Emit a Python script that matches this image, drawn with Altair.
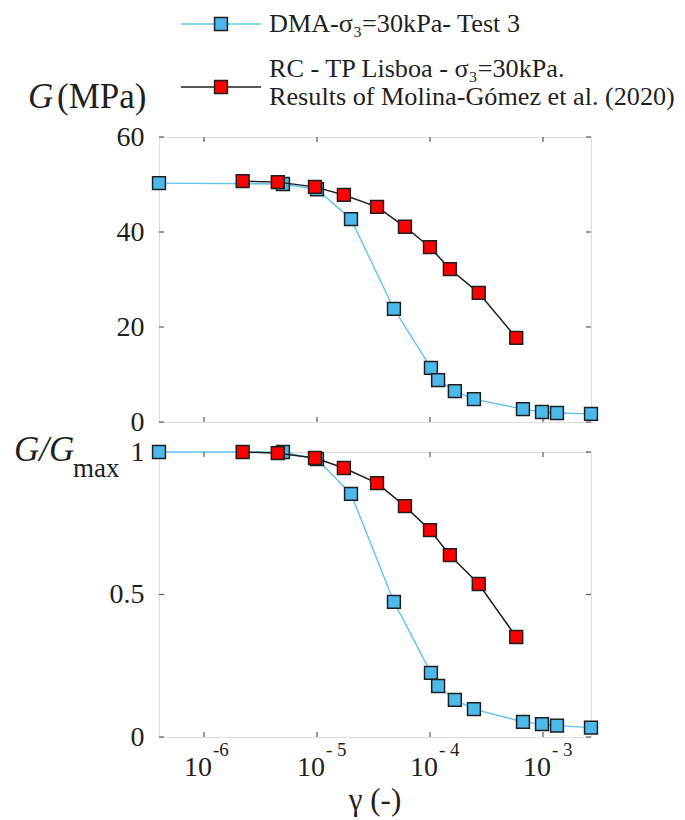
import altair as alt
import pandas as pd

# ---------------- data ----------------
dma_gamma = [4.0e-7, 5.0e-6, 1.0e-5, 2.0e-5, 4.8e-5, 1.02e-4, 1.18e-4,
             1.66e-4, 2.45e-4, 6.65e-4, 9.8e-4, 1.33e-3, 2.66e-3]
dma_G = [50.3, 50.1, 49.0, 42.7, 23.8, 11.4, 8.8, 6.5, 4.8, 2.7, 2.1, 1.9, 1.7]
dma_ratio = [1.0, 1.0, 0.975, 0.853, 0.474, 0.225, 0.179, 0.13, 0.098,
             0.053, 0.045, 0.040, 0.033]

rc_gamma = [2.2e-6, 4.5e-6, 9.6e-6, 1.73e-5, 3.4e-5, 6.0e-5, 1.0e-4,
            1.5e-4, 2.7e-4, 5.8e-4]
rc_G = [50.7, 50.5, 49.5, 47.8, 45.3, 41.1, 36.8, 32.2, 27.2, 17.7]
rc_ratio = [1.0, 0.996, 0.979, 0.944, 0.891, 0.81, 0.726, 0.638, 0.537, 0.351]

x_tick_values = [1e-6, 1e-5, 1e-4, 1e-3]
x_tick_base = ["10", "10", "10", "10"]
x_tick_exp = ["-6", "- 5", "- 4", "- 3"]

top_y_ticks = [0, 20, 40, 60]
bot_y_ticks = [0, 0.5, 1]

legend_labels = ["DMA-σ₃=30kPa- Test 3",
                 "RC - TP Lisboa - σ₃=30kPa.",
                 "Results of Molina-Gómez et al. (2020)"]

x_title = "γ (-)"

# ---------------- styling ----------------
W, H = 432, 285
FONT = "'Liberation Serif', 'Times New Roman', Times, serif"
BLUE_LINE = "#62C3EE"
BLUE_FILL = "#4DB9EA"
RED_FILL = "#FF0000"
DARK = "#1f1f1f"
FRAME = "#5a5a5a"
TICK = 5

dma = pd.DataFrame({"gamma": dma_gamma, "G": dma_G, "ratio": dma_ratio})
rc = pd.DataFrame({"gamma": rc_gamma, "G": rc_G, "ratio": rc_ratio})
xt = pd.DataFrame({"v": x_tick_values, "base": x_tick_base, "exp": x_tick_exp})
one = pd.DataFrame({"a": [0]})

x_scale = alt.Scale(type="log", domain=[min(dma_gamma), max(dma_gamma)], nice=False)


def txt(text, x, y, size, italic=False, align="left"):
    return alt.Chart(one).mark_text(
        text=text, font=FONT, fontSize=size, align=align, baseline="middle",
        fontStyle="italic" if italic else "normal", color=DARK
    ).encode(x=alt.value(x), y=alt.value(y))


def panel(field, ydom, yticks, extra):
    ysc = alt.Scale(domain=ydom, nice=False, zero=False)
    yaxis = alt.Axis(values=yticks, format="~r", title=None, grid=False, domain=False,
                     ticks=False, tickSize=0, labelPadding=15, labelFont=FONT,
                     labelFontSize=28, labelColor=DARK)
    X = alt.X("gamma:Q", scale=x_scale, axis=None)
    Y = alt.Y(f"{field}:Q", scale=ysc, axis=yaxis)
    line_b = alt.Chart(dma).mark_line(color=BLUE_LINE, strokeWidth=1.4).encode(x=X, y=Y)
    pts_b = alt.Chart(dma).mark_point(shape="square", filled=True, size=165, fill=BLUE_FILL,
                                      stroke=DARK, strokeWidth=1.5, opacity=1).encode(x=X, y=Y)
    line_r = alt.Chart(rc).mark_line(color=DARK, strokeWidth=1.5).encode(x=X, y=Y)
    pts_r = alt.Chart(rc).mark_point(shape="square", filled=True, size=165, fill=RED_FILL,
                                     stroke=DARK, strokeWidth=1.5, opacity=1).encode(x=X, y=Y)

    yt = pd.DataFrame({"v": yticks})
    XT = alt.X("v:Q", scale=x_scale, axis=None)
    YT = alt.Y("v:Q", scale=ysc, axis=yaxis)
    tick_l = alt.Chart(yt).mark_rule(color=FRAME, strokeWidth=1.2).encode(
        y=YT, x=alt.value(0), x2=alt.value(TICK))
    tick_r = alt.Chart(yt).mark_rule(color=FRAME, strokeWidth=1.2).encode(
        y=YT, x=alt.value(W), x2=alt.value(W - TICK))
    tick_b = alt.Chart(xt).mark_rule(color=FRAME, strokeWidth=1.2).encode(
        x=XT, y=alt.value(H), y2=alt.value(H - TICK))
    tick_t = alt.Chart(xt).mark_rule(color=FRAME, strokeWidth=1.2).encode(
        x=XT, y=alt.value(0), y2=alt.value(TICK))

    layers = [line_b, tick_l, tick_r, tick_b, tick_t, pts_b, line_r, pts_r] + extra
    return alt.layer(*layers).properties(width=W, height=H)


# legend (top panel, above plot area)
LEG_FS = 26.2
leg = [
    alt.Chart(one).mark_rule(color=BLUE_LINE, strokeWidth=1.6).encode(
        x=alt.value(22), x2=alt.value(102), y=alt.value(-113)),
    alt.Chart(one).mark_point(shape="square", filled=True, size=165, fill=BLUE_FILL,
                              stroke=DARK, strokeWidth=1.5, opacity=1).encode(
        x=alt.value(62), y=alt.value(-113)),
    alt.Chart(one).mark_rule(color=DARK, strokeWidth=1.6).encode(
        x=alt.value(22), x2=alt.value(102), y=alt.value(-50)),
    alt.Chart(one).mark_point(shape="square", filled=True, size=165, fill=RED_FILL,
                              stroke=DARK, strokeWidth=1.5, opacity=1).encode(
        x=alt.value(62), y=alt.value(-50)),
    txt(legend_labels[0], 110, -113, LEG_FS),
    txt(legend_labels[1], 110, -68, LEG_FS),
    txt(legend_labels[2], 110, -40, LEG_FS),
    txt("G", -131, -40, 35, italic=True),
    txt("(MPa)", -102, -40, 35),
]

top = panel("G", [0, 60], top_y_ticks, leg)

bot_extra = [
    txt("G/G", -145, -2, 35, italic=True),
    txt("max", -86, 17, 27),
    alt.Chart(xt).mark_text(font=FONT, fontSize=28, align="right", baseline="middle",
                            dx=8, color=DARK).encode(
        x=alt.X("v:Q", scale=x_scale, axis=None), y=alt.value(H + 31), text="base:N"),
    alt.Chart(xt).mark_text(font=FONT, fontSize=19, align="left", baseline="middle",
                            dx=9, color=DARK).encode(
        x=alt.X("v:Q", scale=x_scale, axis=None), y=alt.value(H + 13), text="exp:N"),
    txt(x_title, W / 2, H + 64, 31, align="center"),
]
bottom = panel("ratio", [0, 1], bot_y_ticks, bot_extra)

chart = alt.vconcat(top, bottom, spacing=30, bounds="flush").properties(
    padding={"left": 5, "top": 2, "right": 0, "bottom": 0}
).configure_view(
    stroke=FRAME, strokeWidth=1.3
).configure(background="white")

chart.save("out.html", embed_options={"renderer": "svg", "actions": False})
